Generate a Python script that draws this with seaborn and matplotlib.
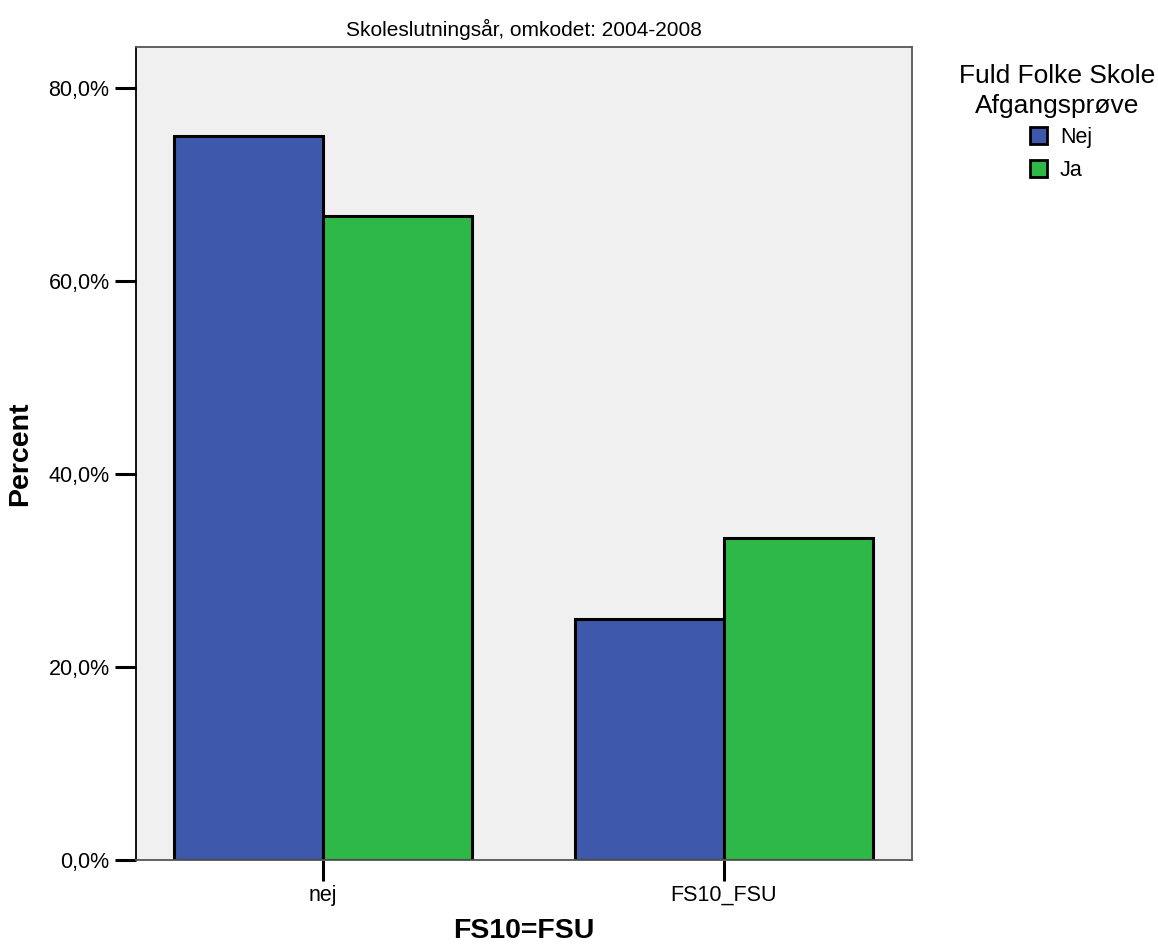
import matplotlib
matplotlib.use("Agg")
import matplotlib.pyplot as plt
import seaborn as sns
import pandas as pd
from matplotlib.ticker import FuncFormatter
from matplotlib.patches import Patch

# data
categories = ["nej", "FS10_FSU"]
groups = ["Nej", "Ja"]
pct_nej = [75.0, 25.0]   # Fuld Folke Skole Afgangsprøve = Nej
pct_ja = [66.7, 33.3]    # Fuld Folke Skole Afgangsprøve = Ja
colors = ["#3E58AC", "#2EB848"]

df = pd.DataFrame({
    "FS10=FSU": categories * 2,
    "group": [groups[0]] * len(categories) + [groups[1]] * len(categories),
    "Percent": pct_nej + pct_ja,
})

sns.set_style("white")
plt.rcParams["font.family"] = ["Liberation Sans", "DejaVu Sans"]
plt.rcParams["text.color"] = "black"
plt.rcParams["axes.labelcolor"] = "black"
plt.rcParams["xtick.color"] = "black"
plt.rcParams["ytick.color"] = "black"

fig = plt.figure(figsize=(11.58, 9.46), dpi=100)
ax = fig.add_axes([0.1174, 0.0909, 0.6702, 0.8594])
ax.set_facecolor("#F0F0F0")

sns.barplot(data=df, x="FS10=FSU", y="Percent", hue="group", order=categories,
            hue_order=groups, palette=colors, width=0.743, edgecolor="black",
            linewidth=2.2, saturation=1, legend=False, ax=ax)

ax.set_xlim(-0.466, 1.469)
ax.set_ylim(0, 84.2)
ax.set_yticks([0, 20, 40, 60, 80])
ax.yaxis.set_major_formatter(FuncFormatter(lambda v, p: f"{v:.1f}%".replace(".", ",")))
ax.tick_params(axis="both", direction="out", length=15, width=2.2, color="black",
               labelsize=15.5, pad=4, left=True, bottom=True)
ax.tick_params(axis="x", pad=3)
for s in ax.spines.values():
    s.set_color("#555555")
    s.set_linewidth(1.3)
ax.spines["left"].set_color("black")

ax.set_title("Skoleslutningsår, omkodet: 2004-2008", fontsize=15, pad=8)
ax.set_xlabel("FS10=FSU", fontsize=20.5, fontweight="bold")
ax.set_ylabel("Percent", fontsize=20.5, fontweight="bold")
ax.xaxis.set_label_coords(0.5, -0.071)
ax.yaxis.set_label_coords(-0.133, 0.5)

# legend: centred title, entries below
fig.text(0.913, 1 - 91 / 946, "Fuld Folke Skole\nAfgangsprøve", ha="center", va="center",
         fontsize=19, linespacing=1.3)
handles = [Patch(facecolor=c, edgecolor="black", linewidth=2) for c in colors]
fig.legend(handles, groups, loc="upper left", bbox_to_anchor=(0.880, 0.877),
           frameon=False, fontsize=15.5, handlelength=0.8, handleheight=0.8,
           handletextpad=0.6, labelspacing=0.55, borderpad=0)

fig.savefig("out.png", dpi=100)
